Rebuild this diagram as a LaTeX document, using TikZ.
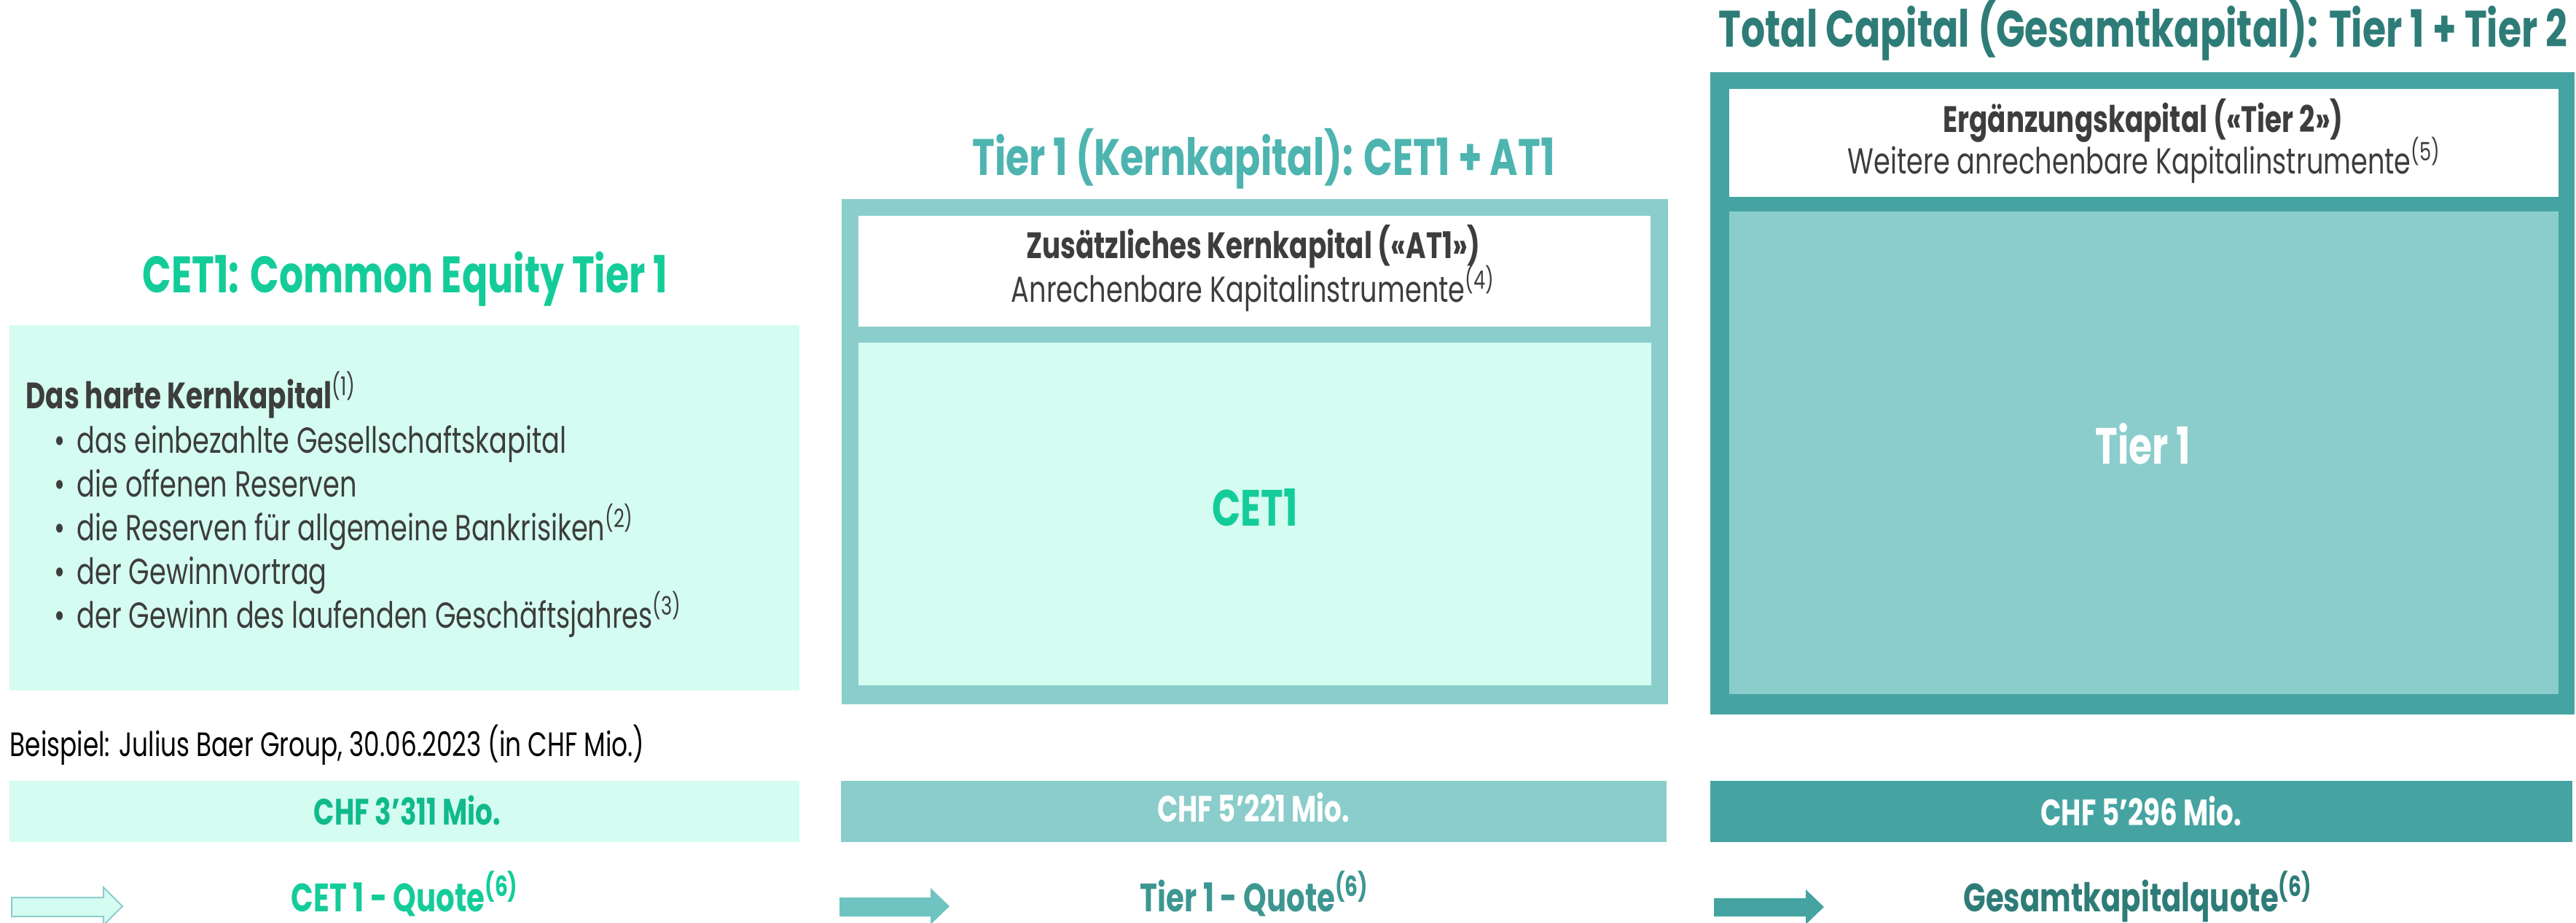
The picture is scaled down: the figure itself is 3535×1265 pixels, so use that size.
\documentclass[tikz,border=0pt]{standalone}
\usepackage{fontspec}
\setmainfont[FakeStretch=0.74]{Poppins}
\definecolor{mintfill}{RGB}{212,252,241}
\definecolor{lightteal}{RGB}{138,205,203}
\definecolor{midteal}{RGB}{111,195,193}
\definecolor{darkteal}{RGB}{69,164,162}
\definecolor{cetgreen}{RGB}{20,204,154}
\definecolor{valgreen}{RGB}{16,186,139}
\definecolor{tiertext}{RGB}{77,180,176}
\definecolor{quoteteal}{RGB}{62,150,145}
\definecolor{totaltext}{RGB}{46,124,119}
\definecolor{bodygray}{RGB}{61,61,61}

\begin{document}
\begin{tikzpicture}[x=0.25pt,y=0.25pt,yscale=-1,xscale=1,
    titletext/.style={anchor=base, inner sep=0pt, font=\fontsize{17.6}{21}\selectfont\bfseries},
    headtext/.style={anchor=base, inner sep=0pt, text=bodygray, font=\fontsize{12.6}{15}\selectfont\bfseries},
    bodytext/.style={anchor=base, inner sep=0pt, text=bodygray, font=\fontsize{12.4}{15}\selectfont},
    itemtext/.style={bodytext, anchor=base west},
    innerlabel/.style={anchor=base, inner sep=0pt, font=\fontsize{17.5}{21}\selectfont\bfseries},
    valuelabel/.style={anchor=base, inner sep=0pt, font=\fontsize{12.6}{15}\selectfont\bfseries},
    quotelabel/.style={anchor=base, inner sep=0pt, font=\fontsize{13.6}{16}\selectfont\bfseries}]
        \useasboundingbox (0,0) rectangle (3535,1265);
        %Titles
        \node [titletext, text=cetgreen] (cetTitle) at (556,401) {CET1: Common Equity Tier 1};
        \node [titletext, text=tiertext] (tierTitle) at (1734,240) {Tier 1 (Kernkapital): CET1 + AT1};
        \node [titletext, text=totaltext] (totalTitle) at (2941,64) {Total Capital (Gesamtkapital): Tier 1 + Tier 2};

        %Shape: Rectangle CET1
        \fill [mintfill] (13,446) rectangle (1097,947);
        \node [headtext, anchor=base west] (hartHead) at (35,560) {Das harte Kernkapital\textsuperscript{\mdseries(1)}};
        \node [itemtext] (hartA) at (105,621) {\llap{\textbullet\hspace{4pt}}das einbezahlte Gesellschaftskapital};
        \node [itemtext] (hartB) at (105,681) {\llap{\textbullet\hspace{4pt}}die offenen Reserven};
        \node [itemtext] (hartC) at (105,741) {\llap{\textbullet\hspace{4pt}}die Reserven für allgemeine Bankrisiken\textsuperscript{(2)}};
        \node [itemtext] (hartD) at (105,801) {\llap{\textbullet\hspace{4pt}}der Gewinnvortrag};
        \node [itemtext] (hartE) at (105,861) {\llap{\textbullet\hspace{4pt}}der Gewinn des laufenden Geschäftsjahres\textsuperscript{(3)}};

        %Shape: Frame Tier 1
        \fill [lightteal] (1155,273) rectangle (2289,966);
        \fill [white] (1178,296) rectangle (2265,448);
        \fill [mintfill] (1178,470) rectangle (2266,940);
        \node [headtext] (at1Head) at (1720,354) {Zusätzliches Kernkapital («AT1»)};
        \node [bodytext] (at1Sub) at (1720,414) {Anrechenbare Kapitalinstrumente\textsuperscript{(4)}};
        \node [innerlabel, text=cetgreen] (cetInner) at (1722,721) {CET1};

        %Shape: Frame Total Capital
        \fill [darkteal] (2347,99) rectangle (3533,980);
        \fill [white] (2373,122) rectangle (3511,270);
        \fill [lightteal] (2373,290) rectangle (3511,952);
        \node [headtext] (tier2Head) at (2941,181) {Ergänzungskapital («Tier 2»)};
        \node [bodytext] (tier2Sub) at (2943,238) {Weitere anrechenbare Kapitalinstrumente\textsuperscript{(5)}};
        \node [innerlabel, text=white] (tierInner) at (2941,636) {Tier 1};

        %Example values
        \node [bodytext, text=black, anchor=base west, font=\fontsize{11.6}{14}\selectfont] (beispiel) at (13,1037) {Beispiel: Julius Baer Group, 30.06.2023 (in CHF Mio.)};
        \fill [mintfill] (13,1071) rectangle (1097,1155);
        \fill [lightteal] (1154,1071) rectangle (2287,1155);
        \fill [darkteal] (2347,1071) rectangle (3530,1155);
        \node [valuelabel, text=valgreen] (cetValue) at (559,1131) {CHF 3’311 Mio.};
        \node [valuelabel, text=white] (tierValue) at (1720,1127) {CHF 5’221 Mio.};
        \node [valuelabel, text=white] (totalValue) at (2938,1132) {CHF 5’296 Mio.};

        %Block Arrows
        \draw [fill=mintfill, draw=lightteal, line width=0.5pt] (16,1231) -- (142,1231) -- (142,1217) -- (168,1243) -- (142,1269) -- (142,1257) -- (16,1257) -- cycle ;
        \fill [midteal] (1152,1231) -- (1277,1231) -- (1277,1218) -- (1303,1243) -- (1277,1268) -- (1277,1257) -- (1152,1257) -- cycle ;
        \fill [darkteal] (2352,1232) -- (2478,1232) -- (2478,1220) -- (2503,1244) -- (2478,1268) -- (2478,1257) -- (2352,1257) -- cycle ;
        \node [quotelabel, text=cetgreen] (cetQuote) at (556,1250) {CET 1 - Quote\textsuperscript{(6)}};
        \node [quotelabel, text=quoteteal] (tierQuote) at (1722,1250) {Tier 1 - Quote\textsuperscript{(6)}};
        \node [quotelabel, text=totaltext] (totalQuote) at (2934,1250) {Gesamtkapitalquote\textsuperscript{(6)}};
\end{tikzpicture}
\end{document}
